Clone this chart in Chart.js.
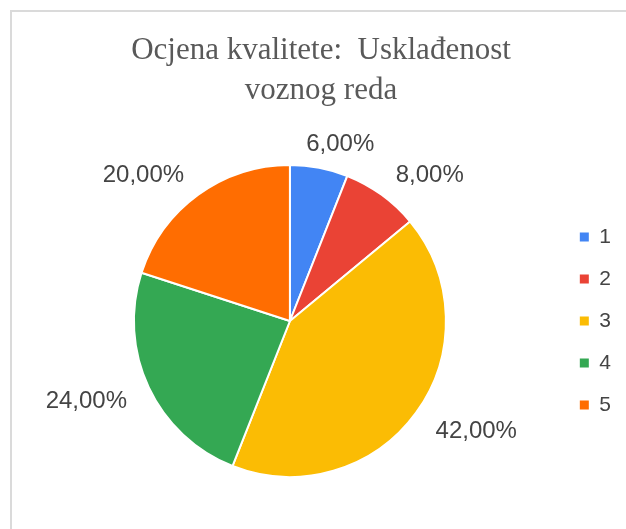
<!DOCTYPE html>
<html>
<head>
<meta charset="utf-8">
<script src="https://cdn.jsdelivr.net/npm/chart.js@4.4.1/dist/chart.umd.min.js"></script>
<style>
  html, body { margin: 0; padding: 0; background: #fff; }
  #wrap { position: relative; width: 626px; height: 529px; overflow: hidden; }
  #frame {
    position: absolute; left: 10px; top: 10px; right: -10px; bottom: -10px;
    border-top: 2px solid #dadada; border-left: 2px solid #dadada;
  }
  #chart { position: absolute; left: 0; top: 0; }
</style>
</head>
<body>
<div id="wrap">
  <div id="frame"></div>
  <canvas id="chart" width="626" height="529"></canvas>
</div>
<script>
// -------------------
// DATA
// -------------------
const categories = ["1", "2", "3", "4", "5"];
const shares = [6, 8, 42, 24, 20];   // %
const titleLines = ["Ocjena kvalitete:  Usklađenost", "voznog reda"];

const colors = ["#4285F4", "#EA4335", "#FBBC04", "#34A853", "#FF6D01"];

function fmt(v) {
  return v.toFixed(2).replace(".", ",") + "%";
}

// -------------------
// LABELS OUTSIDE THE PIE
// anchor on the mid angle, text pushed outwards on its side
// -------------------
const outsideLabels = {
  id: "outsideLabels",
  afterDatasetsDraw(chart, args, opts) {
    const ctx = chart.ctx;
    const meta = chart.getDatasetMeta(0);
    const data = chart.data.datasets[0].data;
    ctx.save();
    ctx.font = opts.size + "px " + opts.family;
    ctx.fillStyle = opts.color;
    ctx.textAlign = "center";
    ctx.textBaseline = "middle";
    meta.data.forEach((arc, i) => {
      const p = arc.getProps(["x", "y", "startAngle", "endAngle"], true);
      const mid = (p.startAngle + p.endAngle) / 2;
      const txt = fmt(data[i]);
      const w = ctx.measureText(txt).width;
      const c = Math.cos(mid);
      const s = Math.sin(mid);
      const tx = p.x + opts.dist * c + Math.sign(c) * (w / 2) * Math.min(1, Math.abs(c) * 2.6);
      const ty = p.y + opts.dist * s + Math.max(0, s) * opts.size * 0.35;
      ctx.fillText(txt, tx, ty);
    });
    ctx.restore();
  }
};

// -------------------
// CHART
// -------------------
const defaultLabels = Chart.overrides.pie.plugins.legend.labels.generateLabels;

new Chart(document.getElementById("chart"), {
  type: "pie",
  data: {
    labels: categories,
    datasets: [{
      data: shares,
      backgroundColor: colors,
      borderColor: "#ffffff",
      borderWidth: 2,
      hoverOffset: 0,
      radius: 156
    }]
  },
  options: {
    responsive: false,
    animation: false,
    events: [],
    layout: { padding: { top: 10, left: 21, right: 5, bottom: 38 } },
    plugins: {
      title: {
        display: true,
        text: titleLines,
        color: "#595959",
        font: { family: "'Liberation Serif', 'Times New Roman', serif", size: 31, weight: "normal", lineHeight: 40 / 31 },
        padding: { top: 21, bottom: 40 }
      },
      legend: {
        position: "right",
        fullSize: false,
        labels: {
          boxWidth: 9,
          boxHeight: 9,
          padding: 21,
          color: "#444444",
          font: { family: "'Liberation Sans', Arial, sans-serif", size: 21 },
          generateLabels(chart) {
            return defaultLabels(chart).map(l => Object.assign(l, { lineWidth: 0 }));
          }
        }
      },
      tooltip: { enabled: false },
      outsideLabels: {
        dist: 180,
        size: 24,
        family: "'Liberation Sans', Arial, sans-serif",
        color: "#444444"
      }
    }
  },
  plugins: [outsideLabels]
});
</script>
</body>
</html>
